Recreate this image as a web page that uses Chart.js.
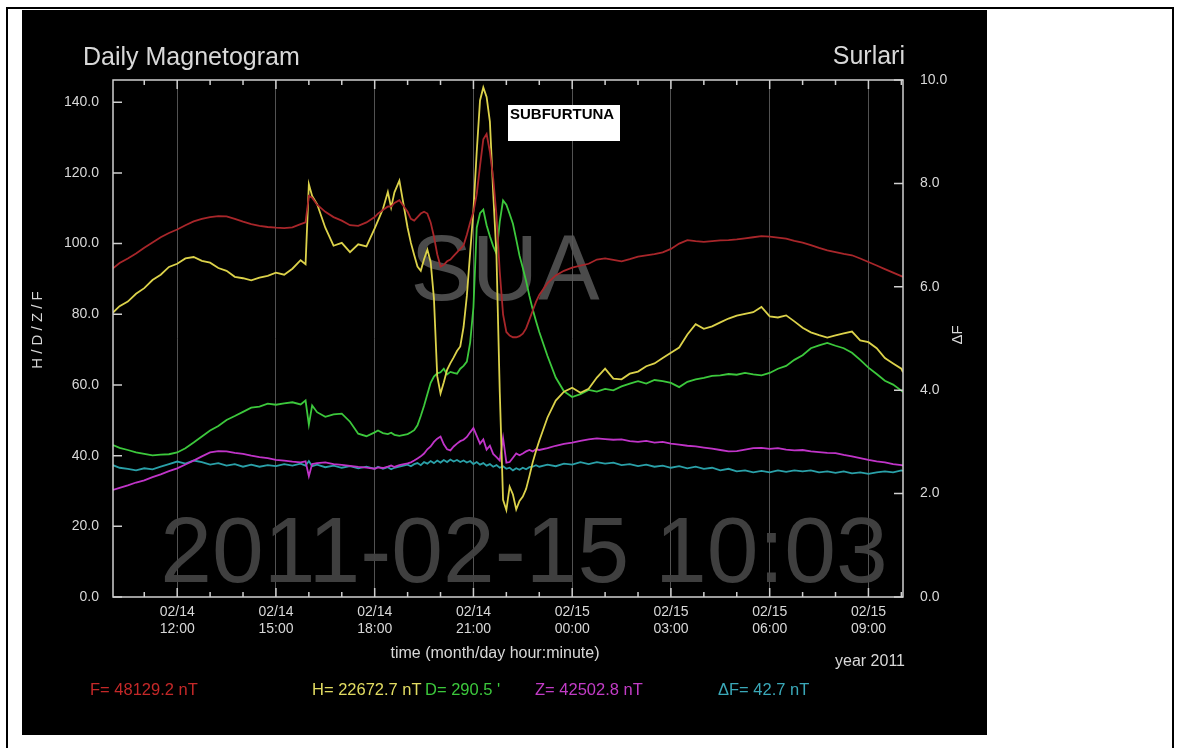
<!DOCTYPE html>
<html>
<head>
<meta charset="utf-8">
<script src="https://cdn.jsdelivr.net/npm/chart.js@4.4.1/dist/chart.umd.min.js"></script>
<style>
  html, body { margin: 0; padding: 0; background: #fff; }
  body { width: 1179px; height: 748px; overflow: hidden; position: relative; }
  #frame { position: absolute; left: 6px; top: 7px; width: 1164px; height: 800px; border: 2px solid #000; border-bottom: none; }
  #panel { position: absolute; left: 22px; top: 10px; width: 965px; height: 725px; background: #000; }
</style>
</head>
<body>
<div id="frame"></div>
<div id="panel"><canvas id="c" width="965" height="725"></canvas></div>
<script>
// hours counted from 02/14 00:00
const times = [
  10.05, 10.25, 10.5, 10.75, 11, 11.25, 11.5, 11.75, 12, 12.25, 12.5, 12.75, 13, 13.25, 13.5, 13.75, 14, 14.25, 14.5, 14.75, 15, 15.25, 15.5, 15.75,
  15.9, 16.0, 16.1, 16.25, 16.5, 16.75, 17, 17.25, 17.5, 17.75, 18, 18.1, 18.25, 18.4, 18.5, 18.6, 18.75,
  19.0, 19.1, 19.2, 19.3, 19.4, 19.5, 19.6, 19.7, 19.8, 19.9,
  20.0, 20.1, 20.2, 20.3, 20.4, 20.5, 20.6, 20.7, 20.8, 20.9,
  21.0, 21.1, 21.2, 21.3, 21.4, 21.5, 21.6, 21.7, 21.8, 21.9,
  22.0, 22.1, 22.2, 22.3, 22.4, 22.5, 22.6, 22.7, 22.8, 22.9,
  23.0, 23.25, 23.5, 23.75, 24,
  24.25, 24.5, 24.75, 25, 25.25, 25.5, 25.75, 26, 26.25, 26.5, 26.75, 27, 27.25, 27.5, 27.75, 28, 28.25, 28.5, 28.75, 29,
  29.25, 29.5, 29.75, 30, 30.25, 30.5, 30.75, 31, 31.25, 31.5, 31.75, 32, 32.25, 32.5, 32.75, 33, 33.25, 33.5, 33.75, 34,
  34.05
];

const fValues = [
  93, 94.5, 95.8, 97.2, 98.8, 100.3, 101.8, 103, 104, 105.2, 106.3, 107, 107.5, 107.8, 107.7, 107, 106.2, 105.5, 105, 104.7, 104.5, 104.4, 104.6, 105.5,
  106, 113.5, 113, 111, 109, 107.5, 106.5, 105.2, 105, 106, 107.5, 108.5, 109.5, 110.5, 110.5, 111.5, 112.3,
  109, 107, 106.5, 107.5, 108.5, 109, 108.5, 106, 102, 97,
  93.5, 94, 95, 95.5, 96.5, 97.5, 98.5, 99.5, 102.5, 106,
  109, 114, 122, 129.5, 131, 126, 118.5, 108, 92, 80,
  75, 74, 73.5, 73.5, 73.8, 74.5, 76, 78.5, 81, 83.5,
  85.5, 88.8, 91, 92.3, 93.2,
  93.8, 94.3, 95.5, 95.8, 95.4, 95, 95.6, 96.3, 96.7, 97, 97.5, 98.5, 100, 101, 100.7, 100.5, 100.7, 100.9, 101, 101.2,
  101.5, 101.8, 102.1, 102, 101.7, 101.4, 100.8, 100.3, 99.6, 98.8, 98.1, 97.6, 97.1, 96.7, 95.8, 94.8, 93.8, 92.8, 91.8, 90.8,
  90.6
];

const hValues = [
  80.5, 82.3, 83.6, 85.8, 87.4, 89.7, 91.2, 93.4, 94.3, 95.8, 96.2, 95.1, 94.6, 93.1, 92.3, 90.6, 90.2, 89.6, 90.4, 90.9, 91.8, 91.2, 92.9, 95.3,
  94.2, 116.8, 113.5, 111.2, 104.5, 99.4, 100.2, 97.6, 99.8, 99.2, 104.3, 106.5, 109.8, 114.6, 110.2, 114.5, 117.8,
  104.5, 100.2, 96.8, 93.5, 92.3, 95.6, 98.3, 94.8, 84.5, 62.5,
  57.6, 60.8, 64.3, 66.2, 67.8, 69.6, 70.9, 76.4, 85.2, 97.4,
  109.5, 126.0, 140.5, 144.2, 141.5, 134.5, 114.5, 96.5, 58.0, 27.5,
  24.6, 31.2, 29.0, 24.8, 27.2, 28.4, 30.6, 34.2, 38.1, 41.3,
  44.2, 50.8, 55.6, 58.1, 59.2,
  57.8, 58.9, 62.1, 64.6, 61.8, 61.6, 63.2, 63.8, 65.3, 66.1, 67.6, 69.1, 70.6, 74.3, 77.2, 75.9, 76.6, 77.7, 78.8, 79.6,
  80.1, 80.6, 82.1, 79.4, 79.1, 79.7, 78.0, 76.2, 74.9, 74.1, 73.4, 74.0, 74.6, 75.1, 72.6, 72.1, 70.4, 67.6, 66.1, 64.6,
  63.6
];

const dValues = [
  43.0, 42.2, 41.6, 40.9, 40.5, 40.1, 40.3, 40.4, 40.9, 42.1, 43.7, 45.4, 47.1, 48.4, 50.1, 51.2, 52.4, 53.6, 53.9, 54.7, 54.4, 54.8, 55.1, 54.5,
  55.6, 48.8, 54.2, 52.3, 51.0, 51.7, 51.9, 49.6, 46.2, 45.5, 46.6, 47.1, 46.4, 46.1, 46.5, 45.9, 45.6,
  46.1, 46.6, 47.2, 48.6, 51.2, 54.1, 57.4, 60.6, 62.4, 63.3,
  63.6, 64.6, 63.0, 63.7, 63.4, 63.2, 64.6, 65.4, 66.6, 72.0,
  82.0, 104.5, 108.6, 109.6, 105.2, 102.1, 99.3, 97.2, 106.2, 112.2,
  111.0, 108.4, 105.6, 101.2, 96.6, 93.1, 89.4, 85.2, 81.4, 78.1,
  75.0, 68.2, 62.1, 58.2, 56.6,
  57.4, 58.6, 58.1, 58.9, 58.5, 59.6, 60.4, 61.1, 60.4, 61.4, 61.1, 60.6, 59.4, 60.9, 61.6, 62.0, 62.6, 62.7, 63.1, 62.9,
  63.4, 63.0, 62.7, 63.4, 64.6, 65.4, 67.1, 68.4, 70.4, 71.2, 71.9, 71.1, 70.4, 69.1, 67.1, 64.9, 63.1, 61.2, 60.1, 58.4,
  58.0
];

const zValues = [
  30.3, 30.9, 31.6, 32.4, 33.0, 33.9, 34.7, 35.6, 36.4, 37.5, 38.6, 39.8, 40.9, 41.3, 41.2, 40.8, 40.5, 40.0, 39.6, 39.3, 38.8, 38.6, 38.3, 38.1,
  38.4, 34.2, 37.6, 37.9, 38.1, 37.6, 37.4, 37.1, 36.8, 36.6, 36.3, 36.7, 36.5, 36.9, 37.2, 36.8, 37.3,
  37.8, 38.1, 38.6, 39.2, 39.8, 40.6, 41.8, 42.6, 43.9, 44.8,
  45.4, 43.2, 41.8, 41.5, 42.6, 43.4, 44.1, 44.5, 45.3, 46.6,
  47.8, 45.6, 43.4, 44.6, 41.7, 42.8, 40.5, 39.6, 38.6, 45.0,
  38.0, 38.2, 39.4, 40.6, 40.1, 40.6, 41.2, 41.6, 41.2, 41.8,
  41.6, 42.1, 42.8, 43.3, 43.7,
  44.2, 44.6, 44.9, 44.7, 44.5, 44.6, 44.1, 43.9, 44.2, 43.7, 43.9, 43.4, 43.1, 42.8, 42.6, 42.3, 42.0, 41.6, 41.2, 41.3,
  41.7, 42.1, 42.2, 41.9, 42.1, 41.7, 41.5, 41.6, 41.2, 41.0, 40.8, 40.7, 40.2, 39.8, 39.3, 38.8, 38.4, 38.1, 37.6, 37.3,
  37.2
];

// delta F, right axis units
const dfValues = [
  2.55, 2.50, 2.48, 2.45, 2.49, 2.47, 2.52, 2.57, 2.62, 2.58, 2.64, 2.61, 2.56, 2.59, 2.54, 2.57, 2.52, 2.56, 2.52, 2.55, 2.53, 2.57, 2.54, 2.58,
  2.54, 2.63, 2.53, 2.56, 2.51, 2.54, 2.50, 2.53, 2.49, 2.52, 2.48, 2.52, 2.48, 2.51, 2.47, 2.50, 2.52,
  2.56, 2.53, 2.57, 2.59, 2.55, 2.61, 2.58, 2.63, 2.59, 2.64,
  2.60, 2.65, 2.61, 2.66, 2.62, 2.65, 2.61, 2.64, 2.60, 2.63,
  2.57, 2.61, 2.56, 2.59, 2.54, 2.57, 2.52, 2.55, 2.50, 2.53,
  2.48, 2.50, 2.45, 2.49, 2.46, 2.50, 2.47, 2.51, 2.52, 2.55,
  2.52, 2.56, 2.53, 2.58, 2.56,
  2.61, 2.57, 2.61, 2.58, 2.60, 2.55, 2.57, 2.53, 2.56, 2.52, 2.54, 2.50, 2.53, 2.49, 2.52, 2.48, 2.50, 2.45, 2.48, 2.43,
  2.45, 2.41, 2.44, 2.41, 2.45, 2.42, 2.45, 2.43, 2.45, 2.41, 2.43, 2.40, 2.43, 2.39, 2.41, 2.38, 2.41, 2.43, 2.41, 2.45,
  2.44
];

const hourTicks = [11, 12, 13, 14, 15, 16, 17, 18, 19, 20, 21, 22, 23, 24, 25, 26, 27, 28, 29, 30, 31, 32, 33, 34];
const labelHours = [12, 15, 18, 21, 24, 27, 30, 33];
const labelText = [
  ['02/14', '12:00'], ['02/14', '15:00'], ['02/14', '18:00'], ['02/14', '21:00'],
  ['02/15', '00:00'], ['02/15', '03:00'], ['02/15', '06:00'], ['02/15', '09:00']
];
const leftTicks = [0, 20, 40, 60, 80, 100, 120, 140];
const rightTicks = [0, 2, 4, 6, 8, 10];

const readouts = ['F= 48129.2 nT', 'H= 22672.7 nT', 'D= 290.5 \'', 'Z= 42502.8 nT', '\u0394F= 42.7 nT'];
const readoutColors = ['#c42828', '#e2dc62', '#3cc83c', '#c23cc6', '#3aa8b8'];

const FONT = '"Liberation Sans", Arial, sans-serif';
const TXT = '#d8d8d8';

const decor = {
  id: 'decor',
  beforeDatasetsDraw(chart) {
    const ctx = chart.ctx, a = chart.chartArea;
    ctx.save();
    ctx.beginPath();
    ctx.rect(a.left, a.top, a.right - a.left, a.bottom - a.top);
    ctx.clip();
    ctx.textAlign = 'center';
    ctx.textBaseline = 'alphabetic';
    ctx.fillStyle = 'rgba(88,88,88,0.85)';
    ctx.font = '92px ' + FONT;
    ctx.fillText('SUA', 483, 290);
    ctx.fillStyle = 'rgba(66,66,66,0.95)';
    ctx.font = '93px ' + FONT;
    ctx.fillText('2011-02-15 10:03', 502, 572);
    ctx.restore();
  },
  afterDatasetsDraw(chart) {
    const ctx = chart.ctx;
    ctx.save();
    ctx.fillStyle = '#fff';
    ctx.fillRect(486, 95, 112, 36);
    ctx.fillStyle = '#000';
    ctx.font = 'bold 15px ' + FONT;
    ctx.textAlign = 'left';
    ctx.textBaseline = 'top';
    ctx.fillText('SUBFURTUNA', 488, 97);
    ctx.restore();
  },
  afterDraw(chart) {
    const ctx = chart.ctx, a = chart.chartArea;
    const xs = chart.scales.x, ys = chart.scales.y, y1 = chart.scales.y1;
    ctx.save();
    ctx.strokeStyle = '#d0d0d0';
    ctx.lineWidth = 1.5;
    ctx.strokeRect(a.left, a.top, a.right - a.left, a.bottom - a.top);
    ctx.beginPath();
    hourTicks.forEach(h => {
      const x = xs.getPixelForValue(h);
      const len = labelHours.includes(h) ? 9 : 5;
      ctx.moveTo(x, a.bottom); ctx.lineTo(x, a.bottom - len);
      ctx.moveTo(x, a.top); ctx.lineTo(x, a.top + len);
    });
    leftTicks.forEach(v => {
      const y = ys.getPixelForValue(v);
      ctx.moveTo(a.left, y); ctx.lineTo(a.left + 9, y);
    });
    rightTicks.forEach(v => {
      const y = y1.getPixelForValue(v);
      ctx.moveTo(a.right, y); ctx.lineTo(a.right - 9, y);
    });
    ctx.stroke();

    ctx.fillStyle = TXT;
    ctx.textBaseline = 'middle';
    ctx.font = '25px ' + FONT;
    ctx.textAlign = 'left';
    ctx.fillText('Daily Magnetogram', 61, 48);
    ctx.textAlign = 'right';
    ctx.fillText('Surlari', 883, 47);

    ctx.font = '16px ' + FONT;
    ctx.textAlign = 'center';
    ctx.fillText('time (month/day hour:minute)', 473, 644);
    ctx.textAlign = 'right';
    ctx.fillText('year 2011', 883, 652);

    ctx.font = '15px ' + FONT;
    ctx.save();
    ctx.translate(16, 320);
    ctx.rotate(-Math.PI / 2);
    ctx.textAlign = 'center';
    ctx.fillText('H / D / Z / F', 0, 0);
    ctx.restore();
    ctx.save();
    ctx.translate(936, 325);
    ctx.rotate(-Math.PI / 2);
    ctx.textAlign = 'center';
    ctx.fillText('\u0394F', 0, 0);
    ctx.restore();

    const rx = [68, 290, 403, 513, 696];
    ctx.font = '16.5px ' + FONT;
    ctx.textAlign = 'left';
    readouts.forEach((t, i) => {
      ctx.fillStyle = readoutColors[i];
      ctx.fillText(t, rx[i], 680);
    });
    ctx.restore();
  }
};

const series = [
  { label: 'F', values: fValues, color: '#a8262a', axis: 'y' },
  { label: 'H', values: hValues, color: '#dcd24a', axis: 'y' },
  { label: 'D', values: dValues, color: '#3cc83c', axis: 'y' },
  { label: 'Z', values: zValues, color: '#c034c8', axis: 'y' },
  { label: '\u0394F', values: dfValues, color: '#2aa0a8', axis: 'y1' }
];

new Chart(document.getElementById('c'), {
  type: 'line',
  data: {
    datasets: series.map(s => ({
      label: s.label,
      data: times.map((t, i) => ({ x: t, y: s.values[i] })),
      borderColor: s.color,
      borderWidth: 1.8,
      pointRadius: 0,
      tension: 0,
      yAxisID: s.axis
    }))
  },
  options: {
    responsive: false,
    animation: false,
    layout: { padding: { top: 70, left: 0, right: 0, bottom: 0 } },
    plugins: { legend: { display: false }, tooltip: { enabled: false } },
    scales: {
      x: {
        type: 'linear',
        min: 10.05,
        max: 34.05,
        afterBuildTicks: s => { s.ticks = hourTicks.map(v => ({ value: v })); },
        afterFit: s => { s.height = 138; },
        grid: {
          drawTicks: false,
          lineWidth: 1,
          color: c => labelHours.includes(c.tick && c.tick.value) ? 'rgba(150,150,150,0.55)' : 'rgba(0,0,0,0)'
        },
        border: { display: false },
        ticks: {
          color: TXT,
          font: { family: FONT, size: 14 },
          padding: 7,
          maxRotation: 0,
          autoSkip: false,
          callback: v => { const k = labelHours.indexOf(v); return k < 0 ? '' : labelText[k]; }
        }
      },
      y: {
        position: 'left',
        min: 0,
        max: 146.3,
        afterBuildTicks: s => { s.ticks = leftTicks.map(v => ({ value: v })); },
        afterFit: s => { s.width = 91; },
        grid: { display: false },
        border: { display: false },
        ticks: { color: TXT, font: { family: FONT, size: 14 }, padding: 6, callback: v => v.toFixed(1) }
      },
      y1: {
        position: 'right',
        min: 0,
        max: 10,
        afterBuildTicks: s => { s.ticks = rightTicks.map(v => ({ value: v })); },
        afterFit: s => { s.width = 84; },
        grid: { display: false },
        border: { display: false },
        ticks: { color: TXT, font: { family: FONT, size: 14 }, padding: 9, callback: v => v.toFixed(1) }
      }
    }
  },
  plugins: [decor]
});
</script>
</body>
</html>
